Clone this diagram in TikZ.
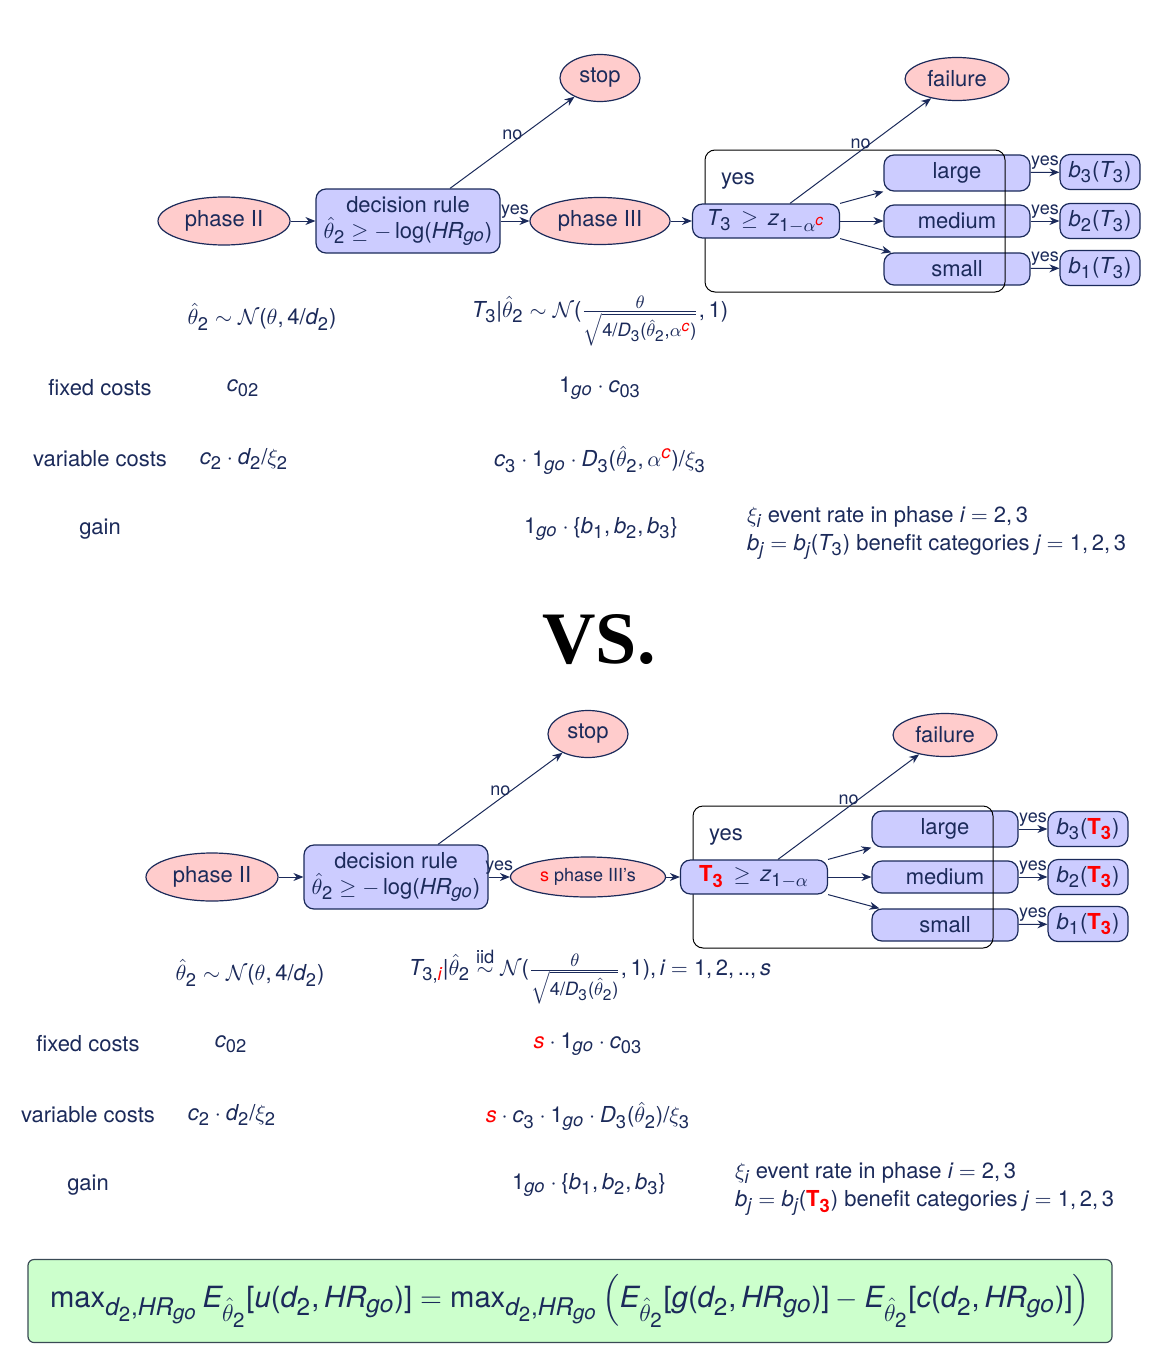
\documentclass[tikz,border=0pt]{standalone}
\usepackage{amsmath}
\usepackage[no-math]{fontspec}
\setmainfont{TeX Gyre Heros}
\newfontfamily\vsfont{Liberation Serif}
\usepackage[italic,noequal,nominus]{mathastext}
\usetikzlibrary{shapes.geometric,arrows.meta}

\definecolor{navy}{HTML}{1B2A5A}
\definecolor{pinkfill}{HTML}{FFCCCC}
\definecolor{boxfill}{HTML}{CCCCFF}
\definecolor{greenfill}{HTML}{CCFFCC}
\definecolor{greenline}{HTML}{3A4A55}

\begin{document}
\begin{tikzpicture}[x=0.5pt,y=-0.5pt,
    every node/.style={text=navy,font=\fontsize{11}{14}\selectfont},
    phase/.style={ellipse,draw=navy,fill=pinkfill,line width=0.6pt,inner sep=0pt},
    box/.style={rectangle,rounded corners=5pt,draw=navy,fill=boxfill,line width=0.6pt,inner sep=2pt},
    frame/.style={rectangle,rounded corners=5pt,draw=black,line width=0.5pt,minimum width=150pt,minimum height=71pt},
    lbl/.style={font=\fontsize{9}{10}\selectfont,inner sep=1pt},
    arr/.style={-{Stealth[length=5pt,width=4pt]},navy,line width=0.5pt}]
    \useasboundingbox (0,0) rectangle (1154,1370);

    % first design: one phase III
    \node[phase,minimum width=66pt,minimum height=24pt] (p2) at (224,221) {phase II};
    \node[box,minimum width=92pt,minimum height=32pt,align=center] (dr) at (408,221) {decision rule\\[-1pt]$\hat{\theta}_2\geq-\log(HR_{go})$};
    \node[phase,minimum width=70pt,minimum height=23.5pt] (p3) at (600,221) {phase III};
    \node[phase,minimum width=40pt,minimum height=23.5pt] (stop) at (600,78) {stop};
    \node[phase,minimum width=52pt,minimum height=21.5pt] (fail) at (957,79) {failure};
    \node[box,minimum width=73pt,minimum height=18pt] (large) at (957,173) {large};
    \node[box,minimum width=73pt,minimum height=16pt] (medium) at (957,221) {medium};
    \node[box,minimum width=73pt,minimum height=16pt] (small) at (957,269) {small};
    \node[frame] (grp) at (855,221) {};
    \node (yes) at (738,181) {yes};
    \node[box,minimum width=73.5pt,minimum height=17pt] (t3) at (766,221) {$T_3\,\geq\,z_{1-\alpha^{\textcolor{red}{c}}}$};
    \node[box,minimum width=40pt,minimum height=17.5pt] (b3) at (1100,172) {$b_3(T_3)$};
    \node[box,minimum width=40pt,minimum height=17.5pt] (b2) at (1100,221) {$b_2(T_3)$};
    \node[box,minimum width=40pt,minimum height=17.5pt] (b1) at (1100,268) {$b_1(T_3)$};

    \draw[arr] (p2) -- (dr);
    \draw[arr] (dr) -- node[lbl,above] {yes} (p3);
    \draw[arr] ([xshift=21pt]dr.north) -- node[lbl,above] {no} (stop);
    \draw[arr] (p3) -- (t3);
    \draw[arr] ([xshift=12pt]t3.north) -- node[lbl,above] {no} (fail);
    \draw[arr] (t3.north east) -- (large.south west);
    \draw[arr] (t3) -- (medium);
    \draw[arr] (t3.south east) -- ([xshift=4pt]small.north west);
    \draw[arr] (large) -- node[lbl,above] {yes} (b3);
    \draw[arr] (medium) -- node[lbl,above] {yes} (b2);
    \draw[arr] (small) -- node[lbl,above] {yes} (b1);

    \node (dist2) at (262,317) {$\hat{\theta}_2\sim\mathcal{N}(\theta,4/d_2)$};
    \node (dist3) at (600,321) {$T_3|\hat{\theta}_2\sim\mathcal{N}(\frac{\theta}{\sqrt{4/D_3(\hat{\theta}_2,\alpha^{\textcolor{red}{c}})}},1)$};
    \node (fix) at (100,388) {fixed costs};
    \node (fix2) at (243,388) {$c_{02}$};
    \node (fix3) at (600,388) {$1_{go}\cdot c_{03}$};
    \node (var) at (100,459) {variable costs};
    \node (var2) at (244,459) {$c_2\cdot d_2/\xi_2$};
    \node (var3) at (600,460) {$c_3\cdot 1_{go}\cdot D_3(\hat{\theta}_2,\alpha^{\textcolor{red}{c}})/\xi_3$};
    \node (gain) at (100,529) {gain};
    \node (gain3) at (601,529) {$1_{go}\cdot\{b_1,b_2,b_3\}$};
    \node[anchor=west,align=left] (note) at (740,533) {$\xi_i$ event rate in phase $i=2,3$\\$b_j=b_j(T_3)$ benefit categories $j=1,2,3$};

    \node[text=black,font=\vsfont\bfseries\fontsize{37}{40}\selectfont] (vs) at (599,640) {VS.};

    % second design: s phase III's
    \node[phase,minimum width=66pt,minimum height=24pt] (p2b) at (212,877) {phase II};
    \node[box,minimum width=92pt,minimum height=32pt,align=center] (drb) at (396,877) {decision rule\\[-1pt]$\hat{\theta}_2\geq-\log(HR_{go})$};
    \node[phase,minimum width=77.5pt,minimum height=20pt,font=\fontsize{9}{10}\selectfont] (p3b) at (588,877) {\textcolor{red}{s} phase III’s};
    \node[phase,minimum width=40pt,minimum height=23.5pt] (stopb) at (588,734) {stop};
    \node[phase,minimum width=52pt,minimum height=21.5pt] (failb) at (945,735) {failure};
    \node[box,minimum width=73pt,minimum height=18pt] (largeb) at (945,829) {large};
    \node[box,minimum width=73pt,minimum height=16pt] (mediumb) at (945,877) {medium};
    \node[box,minimum width=73pt,minimum height=16pt] (smallb) at (945,925) {small};
    \node[frame] (grpb) at (843,877) {};
    \node (yesb) at (726,837) {yes};
    \node[box,minimum width=73.5pt,minimum height=17pt] (t3b) at (754,877) {$\textcolor{red}{\mathbf{T_3}}\,\geq\,z_{1-\alpha}$};
    \node[box,minimum width=40pt,minimum height=17.5pt] (b3b) at (1088,829) {$b_3(\textcolor{red}{\mathbf{T_3}})$};
    \node[box,minimum width=40pt,minimum height=17.5pt] (b2b) at (1088,877) {$b_2(\textcolor{red}{\mathbf{T_3}})$};
    \node[box,minimum width=40pt,minimum height=17.5pt] (b1b) at (1088,924) {$b_1(\textcolor{red}{\mathbf{T_3}})$};

    \draw[arr] (p2b) -- (drb);
    \draw[arr] (drb) -- node[lbl,above] {yes} (p3b);
    \draw[arr] ([xshift=21pt]drb.north) -- node[lbl,above] {no} (stopb);
    \draw[arr] (p3b) -- (t3b);
    \draw[arr] ([xshift=12pt]t3b.north) -- node[lbl,above] {no} (failb);
    \draw[arr] (t3b.north east) -- (largeb.south west);
    \draw[arr] (t3b) -- (mediumb);
    \draw[arr] (t3b.south east) -- ([xshift=4pt]smallb.north west);
    \draw[arr] (largeb) -- node[lbl,above] {yes} (b3b);
    \draw[arr] (mediumb) -- node[lbl,above] {yes} (b2b);
    \draw[arr] (smallb) -- node[lbl,above] {yes} (b1b);

    \node (dist2b) at (250,973) {$\hat{\theta}_2\sim\mathcal{N}(\theta,4/d_2)$};
    \node (dist3b) at (590,976) {$T_{3,\textcolor{red}{i}}|\hat{\theta}_2\overset{\text{iid}}{\sim}\mathcal{N}(\frac{\theta}{\sqrt{4/D_3(\hat{\theta}_2)}},1),i=1,2,..,s$};
    \node (fixb) at (88,1044) {fixed costs};
    \node (fix2b) at (231,1044) {$c_{02}$};
    \node (fix3b) at (588,1044) {$\textcolor{red}{s}\cdot 1_{go}\cdot c_{03}$};
    \node (varb) at (88,1115) {variable costs};
    \node (var2b) at (232,1115) {$c_2\cdot d_2/\xi_2$};
    \node (var3b) at (588,1116) {$\textcolor{red}{s}\cdot c_3\cdot 1_{go}\cdot D_3(\hat{\theta}_2)/\xi_3$};
    \node (gainb) at (88,1185) {gain};
    \node (gain3b) at (589,1185) {$1_{go}\cdot\{b_1,b_2,b_3\}$};
    \node[anchor=west,align=left] (noteb) at (728,1189) {$\xi_i$ event rate in phase $i=2,3$\\$b_j=b_j(\textcolor{red}{\mathbf{T_3}})$ benefit categories $j=1,2,3$};

    % objective
    \node[rectangle,rounded corners=3pt,draw=greenline,fill=greenfill,line width=0.6pt,minimum width=542pt,minimum height=41.5pt,font=\fontsize{14.6}{17}\selectfont] (obj) at (570,1301)
        {$\max_{d_2,HR_{go}}E_{\hat{\theta}_2}[u(d_2,HR_{go})]=\max_{d_2,HR_{go}}\left(E_{\hat{\theta}_2}[g(d_2,HR_{go})]-E_{\hat{\theta}_2}[c(d_2,HR_{go})]\right)$};
\end{tikzpicture}
\end{document}
